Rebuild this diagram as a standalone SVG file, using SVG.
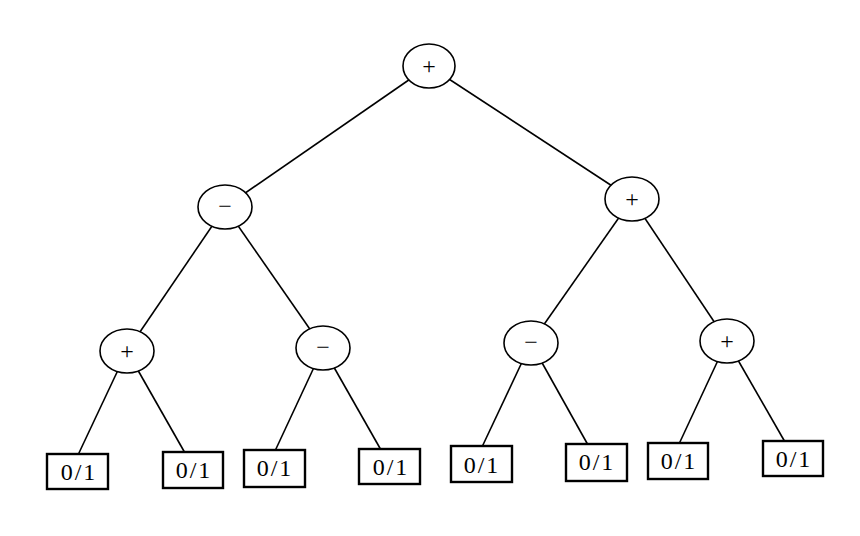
<svg xmlns="http://www.w3.org/2000/svg" width="860" height="536" viewBox="0 0 860 536">
<style>
.e{stroke:#000;stroke-width:1.6;fill:none}
.n{fill:#fff;stroke:#000;stroke-width:1.6}
.b{fill:#fff;stroke:#000;stroke-width:2.4}
.t{font-family:"Liberation Serif",serif;font-size:24px;letter-spacing:2px;text-anchor:middle}
.s{font-family:"Liberation Serif",serif;font-size:24px;text-anchor:middle}
</style>
<rect width="860" height="536" fill="#fff"/>
<g id="edges" class="e">
<line x1="429" y1="66" x2="225" y2="207"/><line x1="429" y1="66" x2="632" y2="199"/>
<line x1="225" y1="207" x2="127" y2="351"/><line x1="225" y1="207" x2="323" y2="348"/>
<line x1="632" y1="199" x2="531" y2="343"/><line x1="632" y1="199" x2="727" y2="341"/>
<line x1="127" y1="351" x2="78" y2="455"/><line x1="127" y1="351" x2="185" y2="453"/>
<line x1="323" y1="348" x2="275" y2="451"/><line x1="323" y1="348" x2="381" y2="450"/>
<line x1="531" y1="343" x2="482" y2="447"/><line x1="531" y1="343" x2="588" y2="445"/>
<line x1="727" y1="341" x2="679" y2="444"/><line x1="727" y1="341" x2="785" y2="442"/>
</g>
<g id="root"><ellipse class="n" cx="429" cy="66" rx="26" ry="22"/><text class="s" x="429" y="74">+</text></g>
<g id="l1a"><ellipse class="n" cx="225" cy="207" rx="27" ry="22"/><text class="s" x="225" y="214">−</text></g>
<g id="l1b"><ellipse class="n" cx="632" cy="199" rx="27" ry="22"/><text class="s" x="632" y="207">+</text></g>
<g id="l2a"><ellipse class="n" cx="127" cy="351" rx="27" ry="22"/><text class="s" x="127" y="359">+</text></g>
<g id="l2b"><ellipse class="n" cx="323" cy="348" rx="27" ry="22"/><text class="s" x="323" y="355">−</text></g>
<g id="l2c"><ellipse class="n" cx="531" cy="343" rx="27" ry="22"/><text class="s" x="531" y="350">−</text></g>
<g id="l2d"><ellipse class="n" cx="727" cy="341" rx="27" ry="22"/><text class="s" x="727" y="349">+</text></g>
<g id="leaf1"><rect class="b" x="47" y="454" width="61" height="35"/><text class="t" x="79" y="480">0/1</text></g>
<g id="leaf2"><rect class="b" x="163" y="452" width="60" height="36"/><text class="t" x="194" y="478">0/1</text></g>
<g id="leaf3"><rect class="b" x="244" y="450" width="61" height="37"/><text class="t" x="275" y="476">0/1</text></g>
<g id="leaf4"><rect class="b" x="359" y="449" width="61" height="35"/><text class="t" x="391" y="475">0/1</text></g>
<g id="leaf5"><rect class="b" x="451" y="446" width="61" height="36"/><text class="t" x="482" y="473">0/1</text></g>
<g id="leaf6"><rect class="b" x="566" y="444" width="61" height="37"/><text class="t" x="597" y="470">0/1</text></g>
<g id="leaf7"><rect class="b" x="648" y="443" width="60" height="36"/><text class="t" x="679" y="469">0/1</text></g>
<g id="leaf8"><rect class="b" x="763" y="441" width="60" height="35"/><text class="t" x="794" y="467">0/1</text></g>
</svg>
